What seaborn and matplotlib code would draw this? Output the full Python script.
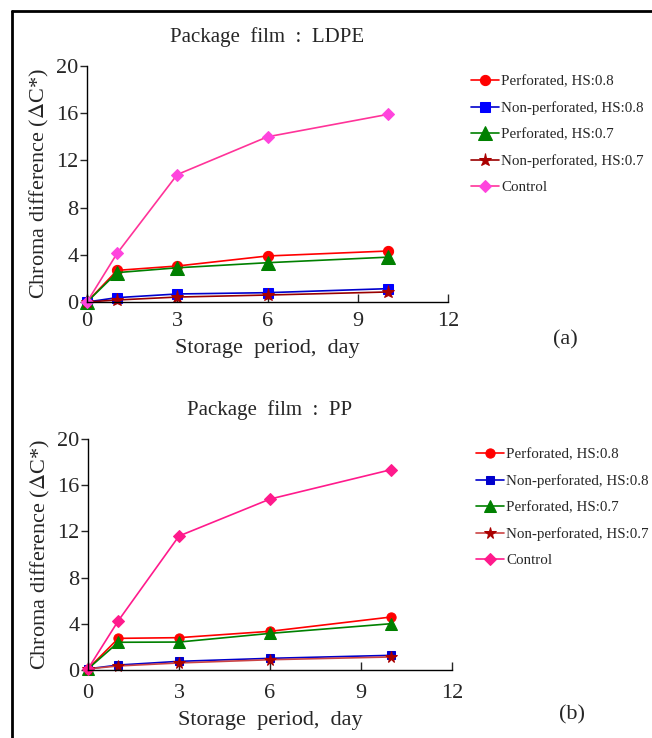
import numpy as np
import pandas as pd
import matplotlib
matplotlib.use("Agg")
import matplotlib.pyplot as plt
import seaborn as sns
from matplotlib.lines import Line2D

sns.set_style("ticks")
plt.rcParams['font.family'] = ['Liberation Serif', 'DejaVu Serif']
plt.rcParams['mathtext.fontset'] = 'stix'

# storage days
days = [0, 1, 3, 6, 10]

series_names = ["Perforated, HS:0.8", "Non-perforated, HS:0.8",
                "Perforated, HS:0.7", "Non-perforated, HS:0.7", "Control"]

# Package film : LDPE
ldpe_perf_08 = [0.0, 2.68, 3.05, 3.9, 4.32]
ldpe_nonperf_08 = [0.0, 0.37, 0.68, 0.79, 1.13]
ldpe_perf_07 = [0.0, 2.49, 2.9, 3.33, 3.8]
ldpe_nonperf_07 = [0.0, 0.17, 0.42, 0.59, 0.85]
ldpe_control = [0.0, 4.12, 10.8, 14.0, 15.9]

# Package film : PP
pp_perf_08 = [0.1, 2.74, 2.8, 3.35, 4.59]
pp_nonperf_08 = [0.1, 0.43, 0.75, 1.01, 1.27]
pp_perf_07 = [0.1, 2.4, 2.42, 3.17, 4.01]
pp_nonperf_07 = [0.1, 0.35, 0.61, 0.89, 1.13]
pp_control = [0.1, 4.27, 11.6, 14.8, 17.35]

x_ticks = [0, 3, 6, 9, 12]
y_ticks = [0, 4, 8, 12, 16, 20]

markers = ['o', 's', '^', '*', 'D']
msizes = [7, 6.5, 9, 9, 6]
line_cols_a = ['#FF0000', '#0000CC', '#008000', '#990000', '#FF3399']
face_cols_a = ['#FF0000', '#0000FF', '#008000', '#AA0000', '#FF44DD']
line_cols_b = ['#FF0000', '#0000CC', '#008000', '#CC4444', '#FF1A8C']
face_cols_b = ['#FF0000', '#0000CC', '#008000', '#AA0000', '#FF1A8C']

fig = plt.figure(figsize=(6.52, 7.38), dpi=100)

# frame lines on left and top
fig.add_artist(Line2D([12/652, 12/652], [0, 1 - 11/738], color='black', lw=2))
fig.add_artist(Line2D([12/652, 1], [1 - 11/738, 1 - 11/738], color='black', lw=2))

panels = [
    dict(rect=[87/652, 1 - 302/738, 361/652, 236/738], title="Package  film  :  LDPE",
         data=[ldpe_perf_08, ldpe_nonperf_08, ldpe_perf_07, ldpe_nonperf_07, ldpe_control],
         lc=line_cols_a, fc=face_cols_a, leg=(471/652, 1 - 75/738), tag="(a)", tagpos=(565/652, 1 - 340/738),
         ms_scale=1.05, tpad=7, lpad=6),
    dict(rect=[88/652, 1 - 670/738, 364/652, 231/738], title="Package  film  :  PP",
         data=[pp_perf_08, pp_nonperf_08, pp_perf_07, pp_nonperf_07, pp_control],
         lc=line_cols_b, fc=face_cols_b, leg=(476/652, 1 - 448/738), tag="(b)", tagpos=(572/652, 1 - 715/738),
         ms_scale=0.95, tpad=10, lpad=6),
]

for p in panels:
    ax = fig.add_axes(p['rect'])
    for i, name in enumerate(series_names):
        sns.lineplot(x=days, y=p['data'][i], ax=ax, color=p['lc'][i], marker=markers[i],
                     markersize=msizes[i] * p['ms_scale'], markerfacecolor=p['fc'][i],
                     markeredgecolor=p['fc'][i], linewidth=1.2, label=name)
    ax.set_xlim(0, 12)
    ax.set_ylim(0, 20)
    ax.set_xticks(x_ticks)
    ax.set_yticks(y_ticks)
    ax.tick_params(axis='x', direction='in', length=6, width=1, labelsize=16, pad=p['tpad'])
    ax.tick_params(axis='y', direction='out', length=5, width=1, labelsize=16, pad=1)
    for s in ['top', 'right']:
        ax.spines[s].set_visible(False)
    for s in ['left', 'bottom']:
        ax.spines[s].set_linewidth(1)
        ax.spines[s].set_color('black')
    ax.set_xlabel("Storage  period,  day", fontsize=16, labelpad=p['lpad'])
    ax.set_ylabel("Chroma difference ($\\Delta$C*)", fontsize=16, labelpad=4)
    ax.set_title(p['title'], fontsize=15, pad=17)
    for lab in ax.get_xticklabels() + ax.get_yticklabels():
        lab.set_clip_on(False)
    for ln in ax.get_lines():
        ln.set_clip_on(False)
    ax.legend(loc='upper left', bbox_to_anchor=p['leg'], bbox_transform=fig.transFigure,
              frameon=False, fontsize=10.8, handlelength=1.85, handletextpad=0.15,
              labelspacing=0.85, borderpad=0, borderaxespad=0)
    fig.text(p['tagpos'][0], p['tagpos'][1], p['tag'], fontsize=16, ha='center', va='center')

fig.savefig("out.png", dpi=100, facecolor='white')
